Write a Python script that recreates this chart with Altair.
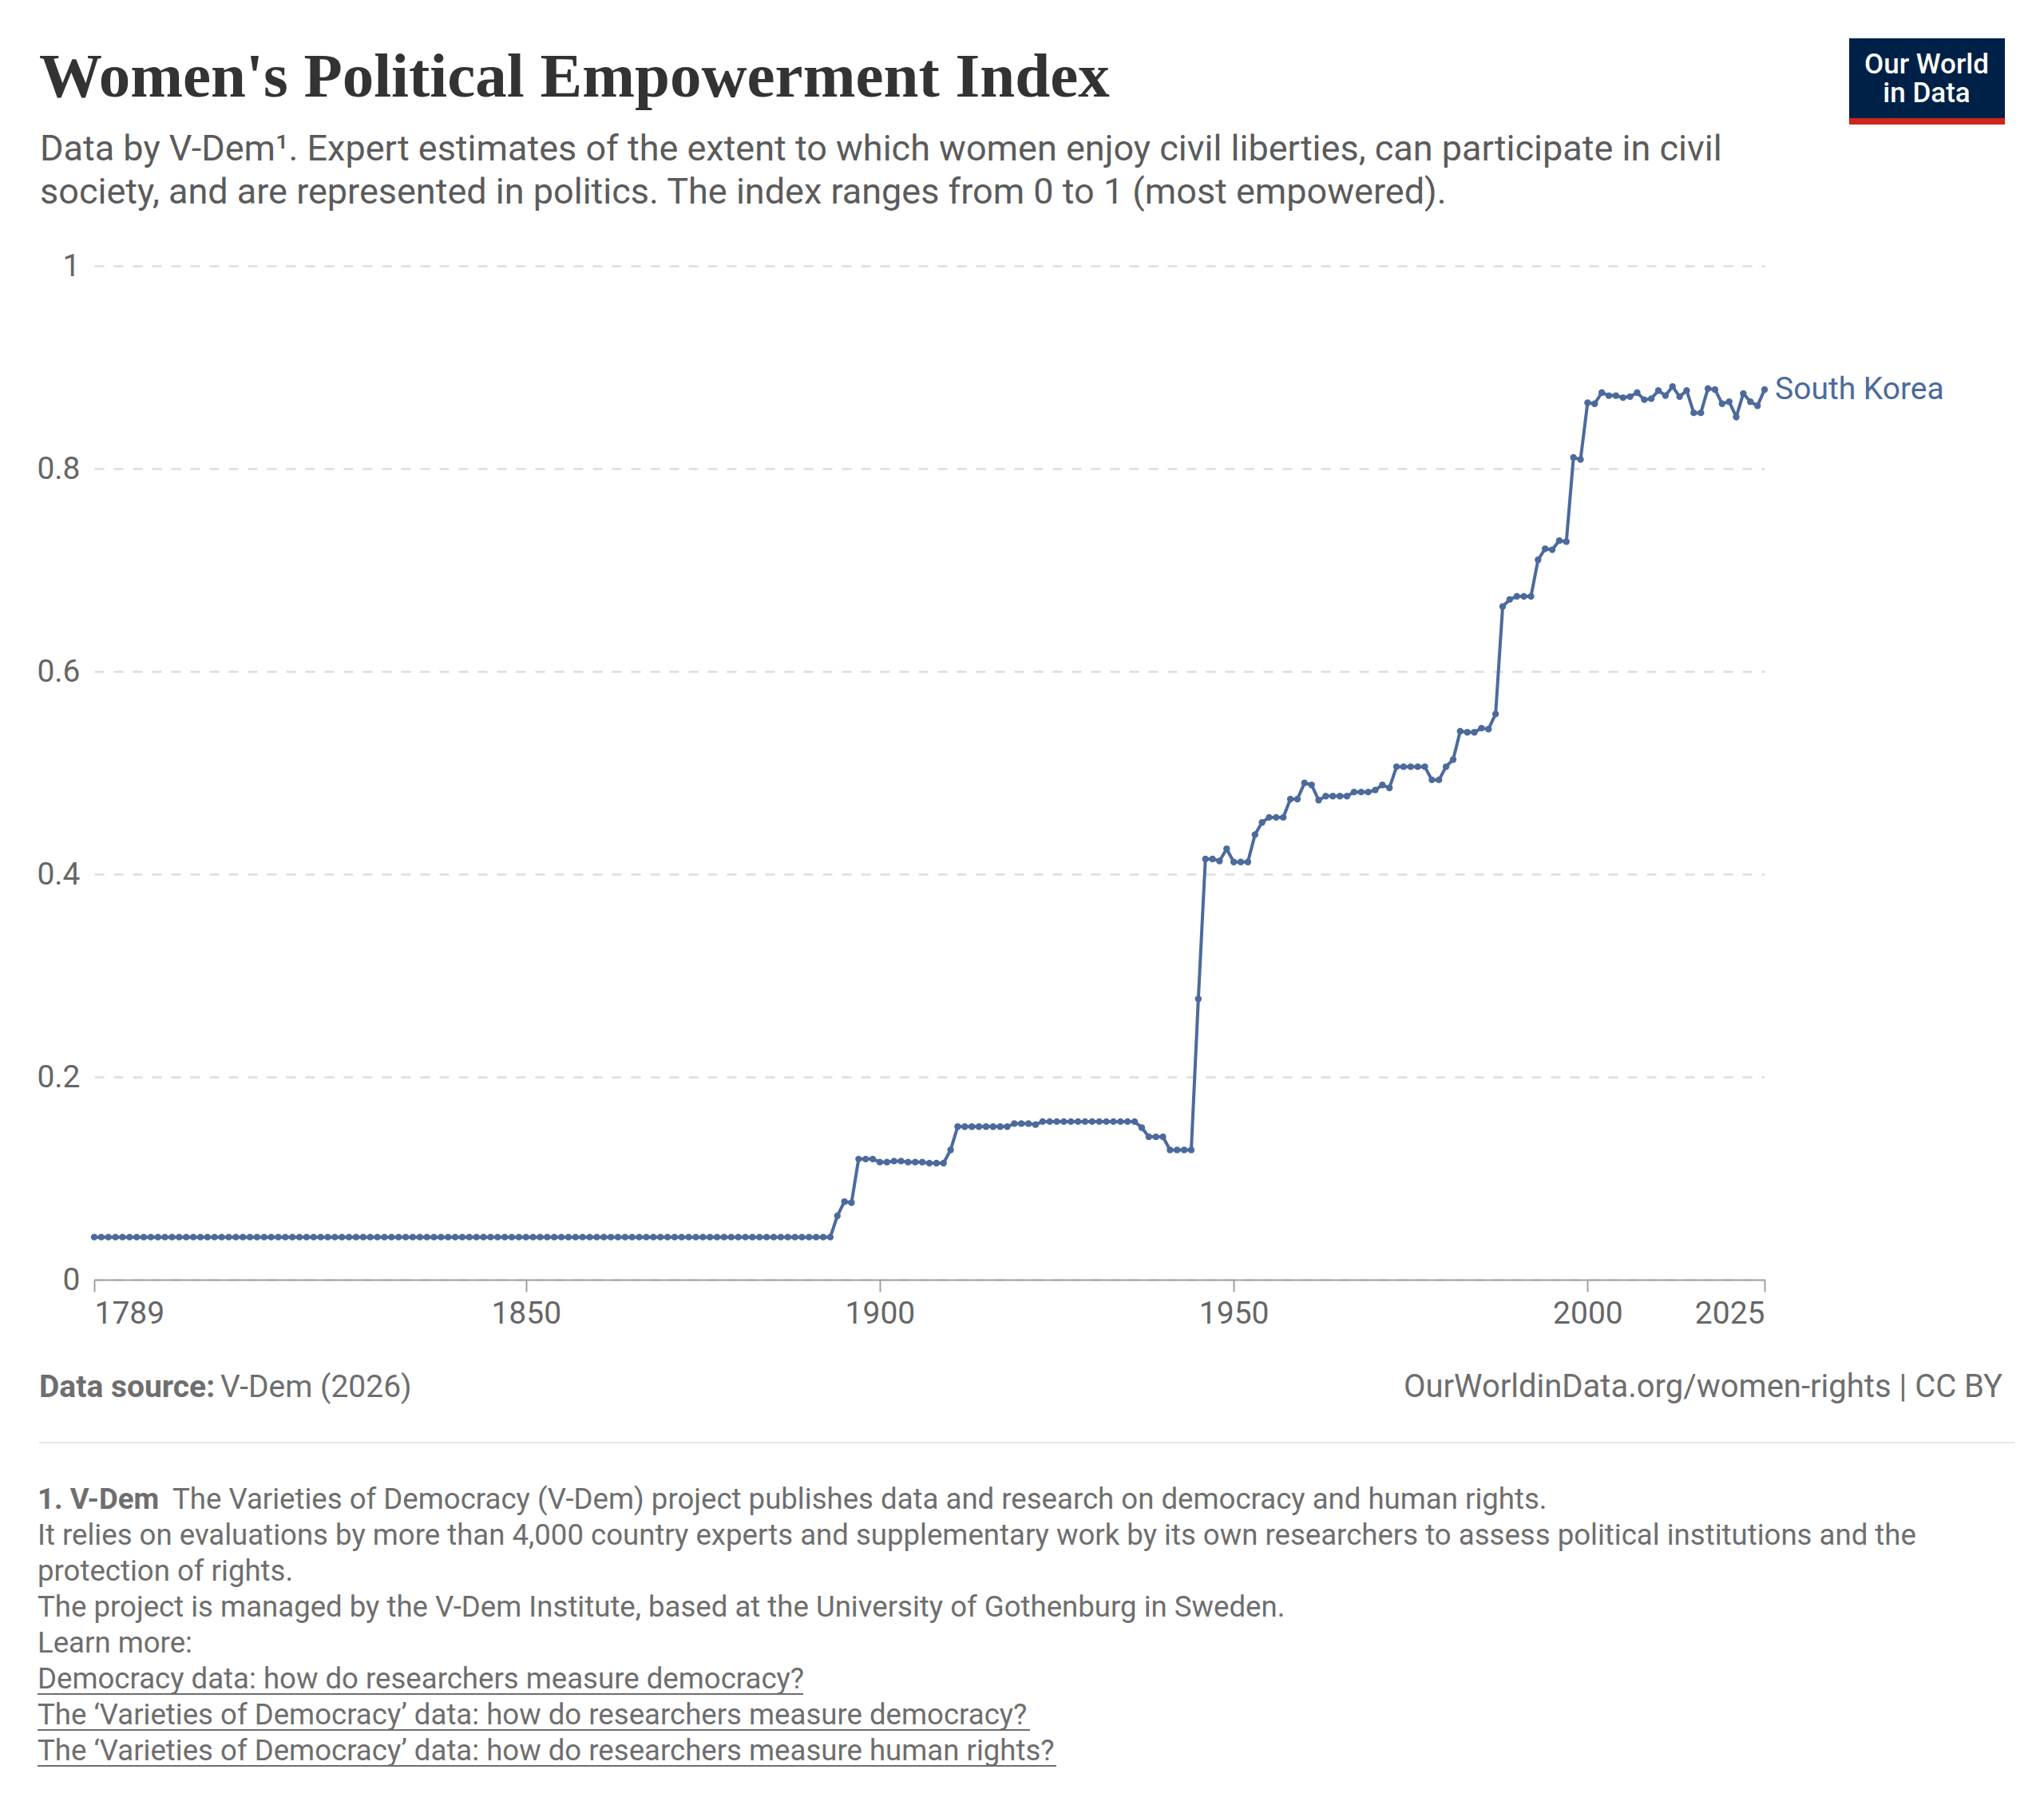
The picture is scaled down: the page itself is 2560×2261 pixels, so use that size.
import pandas as pd
import altair as alt

# ── dados ─────────────────────────────────────────────────────────────
pais = "South Korea"
anos = list(range(1789, 2026))

# 1789–1893: índice praticamente plano
valores_1789_1893 = [
    0.042, 0.042, 0.042, 0.042, 0.042, 0.042, 0.042, 0.042, 0.042, 0.042, 0.042,  # 1789-1799
    0.042, 0.042, 0.042, 0.042, 0.042, 0.042, 0.042, 0.042, 0.042, 0.042,  # 1800s
    0.042, 0.042, 0.042, 0.042, 0.042, 0.042, 0.042, 0.042, 0.042, 0.042,  # 1810s
    0.042, 0.042, 0.042, 0.042, 0.042, 0.042, 0.042, 0.042, 0.042, 0.042,  # 1820s
    0.042, 0.042, 0.042, 0.042, 0.042, 0.042, 0.042, 0.042, 0.042, 0.042,  # 1830s
    0.042, 0.042, 0.042, 0.042, 0.042, 0.042, 0.042, 0.042, 0.042, 0.042,  # 1840s
    0.042, 0.042, 0.042, 0.042, 0.042, 0.042, 0.042, 0.042, 0.042, 0.042,  # 1850s
    0.042, 0.042, 0.042, 0.042, 0.042, 0.042, 0.042, 0.042, 0.042, 0.042,  # 1860s
    0.042, 0.042, 0.042, 0.042, 0.042, 0.042, 0.042, 0.042, 0.042, 0.042,  # 1870s
    0.042, 0.042, 0.042, 0.042, 0.042, 0.042, 0.042, 0.042, 0.042, 0.042,  # 1880s
    0.042, 0.042, 0.042, 0.042,  # 1890-1893
]
valores_1894_1944 = [
    0.063, 0.077, 0.076, 0.119, 0.119, 0.119,  # 1894-1899
    0.116, 0.116, 0.117, 0.117, 0.116, 0.116, 0.116, 0.115, 0.115, 0.115,  # 1900s
    0.128, 0.151, 0.151, 0.151, 0.151, 0.151, 0.151, 0.151, 0.151, 0.154,  # 1910s
    0.154, 0.154, 0.153, 0.156, 0.156, 0.156, 0.156, 0.156, 0.156, 0.156,  # 1920s
    0.156, 0.156, 0.156, 0.156, 0.156, 0.156, 0.156, 0.150, 0.141, 0.141,  # 1930s
    0.141, 0.128, 0.128, 0.128, 0.128,  # 1940-1944
]
valores_1945_2025 = [
    0.277, 0.415, 0.415, 0.413, 0.425,  # 1945-1949
    0.412, 0.412, 0.412, 0.439, 0.451, 0.456, 0.456, 0.456, 0.474, 0.474,  # 1950s
    0.490, 0.488, 0.473, 0.477, 0.477, 0.477, 0.477, 0.481, 0.481, 0.481,  # 1960s
    0.483, 0.488, 0.485, 0.506, 0.506, 0.506, 0.506, 0.506, 0.493, 0.493,  # 1970s
    0.506, 0.513, 0.541, 0.540, 0.540, 0.544, 0.543, 0.558, 0.664, 0.671,  # 1980s
    0.674, 0.674, 0.674, 0.710, 0.721, 0.720, 0.729, 0.728, 0.811, 0.809,  # 1990s
    0.865, 0.864, 0.875, 0.872, 0.872, 0.870, 0.871, 0.875, 0.868, 0.869,  # 2000s
    0.877, 0.872, 0.881, 0.871, 0.877, 0.855, 0.855, 0.879, 0.878, 0.864,  # 2010s
    0.866, 0.851, 0.874, 0.866, 0.862, 0.878,  # 2020-2025
]
valores = valores_1789_1893 + valores_1894_1944 + valores_1945_2025

ticks_x = [1789, 1850, 1900, 1950, 2000, 2025]
ticks_y = [0, 0.2, 0.4, 0.6, 0.8, 1]

titulo = "Women's Political Empowerment Index"
subtitulo = [
    "Data by V-Dem¹. Expert estimates of the extent to which women enjoy civil liberties, can participate in civil",
    "society, and are represented in politics. The index ranges from 0 to 1 (most empowered).",
]
fonte_negrito = "Data source:"
fonte_texto = "V-Dem (2026)"
url_texto = "OurWorldinData.org/women-rights | CC BY"
nota_negrito = "1. V-Dem"
nota_linhas = [
    "The Varieties of Democracy (V-Dem) project publishes data and research on democracy and human rights.",
    "It relies on evaluations by more than 4,000 country experts and supplementary work by its own researchers to assess political institutions and the",
    "protection of rights.",
    "The project is managed by the V-Dem Institute, based at the University of Gothenburg in Sweden.",
    "Learn more:",
]
links = [
    "Democracy data: how do researchers measure democracy?",
    "The ‘Varieties of Democracy’ data: how do researchers measure democracy?",
    "The ‘Varieties of Democracy’ data: how do researchers measure human rights?",
]

AZUL = "#4c6a9c"
FONTE = "Roboto"
W, H = 2092, 1270

df = pd.DataFrame({"ano": anos, "valor": valores, "pais": pais})


def texto(txt, x, y, size, color, weight="normal", align="left", font=FONTE, **kw):
    """Camada de texto fixa (títulos, rodapé, notas)."""
    return (
        alt.Chart(pd.DataFrame({"t": [txt]}))
        .mark_text(align=align, baseline="alphabetic", font=font, fontSize=size,
                   fontWeight=weight, color=color, **kw)
        .encode(x=alt.value(x), y=alt.value(y), text="t:N")
    )


def regua(x1, x2, y, color, width):
    return (
        alt.Chart(pd.DataFrame({"a": [0]}))
        .mark_rule(color=color, strokeWidth=width)
        .encode(x=alt.value(x1), x2=alt.value(x2), y=alt.value(y))
    )


base = alt.Chart(df)

linha = base.mark_line(
    color=AZUL, strokeWidth=4,
    point=alt.OverlayMarkDef(filled=True, size=70, color=AZUL),
).encode(
    x=alt.X("ano:Q",
            scale=alt.Scale(domain=[1789, 2025], nice=False, zero=False),
            axis=alt.Axis(values=ticks_x, format="d", title=None, grid=False,
                          labelFlush=True, labelFont=FONTE, labelFontSize=39,
                          labelColor="#666666", labelPadding=8,
                          domainColor="#a0a0a0", domainWidth=2,
                          tickColor="#a0a0a0", tickWidth=2, tickSize=15)),
    y=alt.Y("valor:Q",
            scale=alt.Scale(domain=[0, 1], nice=False),
            axis=alt.Axis(values=ticks_y, format="~g", title=None,
                          domain=False, ticks=False, labelPadding=18,
                          labelFont=FONTE, labelFontSize=39, labelColor="#666666",
                          gridColor="#dddddd", gridDash=[12, 12], gridWidth=2.5)),
)

rotulo = base.transform_filter(alt.datum.ano == 2025).mark_text(
    align="left", baseline="middle", dx=13, font=FONTE, fontSize=39, color=AZUL
).encode(x="ano:Q", y="valor:Q", text="pais:N")

# cabeçalho
camadas = [
    texto(titulo, -69, -212, 79, "#333333", weight="bold", font="Liberation Serif"),
    texto(subtitulo[0], -68, -132, 45, "#5b5b5b"),
    texto(subtitulo[1], -68, -78, 45, "#5b5b5b"),
]

# logo OWID
logo_box = alt.Chart(pd.DataFrame({"a": [0]})).mark_rect(color="#002147").encode(
    x=alt.value(2198), x2=alt.value(2393), y=alt.value(-285), y2=alt.value(-185))
logo_red = alt.Chart(pd.DataFrame({"a": [0]})).mark_rect(color="#ce261e").encode(
    x=alt.value(2198), x2=alt.value(2393), y=alt.value(-185), y2=alt.value(-177))
camadas += [
    logo_box, logo_red,
    texto("Our World\nin Data", 2295, -241, 35, "white", weight=500, align="center",
          lineBreak="\n", lineHeight=36),
]

# rodapé
camadas += [
    texto(fonte_negrito, -69, 1417, 39, "#6e6e6e", weight="bold"),
    texto(fonte_texto, 158, 1417, 39, "#6e6e6e"),
    texto(url_texto, 2390, 1417, 40, "#6e6e6e", align="right"),
    regua(-69, 2405, 1474, "#e6e6e6", 2),
]

# notas
y0 = 1557
FN = 36.6
camadas.append(texto(nota_negrito, -71, y0, FN, "#6e6e6e", weight="bold"))
camadas.append(texto(nota_linhas[0], 98, y0, FN, "#6e6e6e"))
for i, ln in enumerate(nota_linhas[1:], start=1):
    camadas.append(texto(ln, -71, y0 + 45 * i, FN, "#6e6e6e"))
fim_links = [1006, 1290, 1323]
for j, ln in enumerate(links):
    yy = y0 + 45 * (5 + j)
    camadas.append(texto(ln, -71, yy, FN, "#6e6e6e"))
    camadas.append(regua(-71, fim_links[j] - 118, yy + 7, "#6e6e6e", 2))

chart = alt.layer(linha, rotulo, *camadas).properties(
    width=W, height=H,
    padding={"left": 110, "top": 325, "right": 342, "bottom": 650},
    autosize=alt.AutoSizeParams(type="none"),
    background="white",
).configure_view(strokeWidth=0)

chart.save("out.html", embed_options={"renderer": "svg", "actions": False})
